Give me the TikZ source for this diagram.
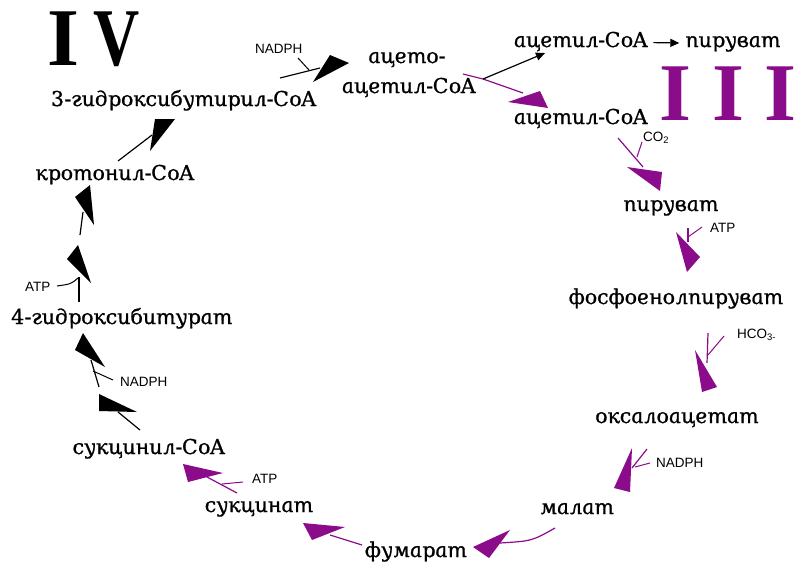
\documentclass[tikz,border=0pt]{standalone}
\usepackage{fontspec}
\usepackage{tikz}
\usetikzlibrary{arrows.meta}
\setmainfont{Liberation Sans}
\newfontfamily\rufont{DejaVu Serif}[ItalicFeatures={FakeSlant=-0.2, FakeBold=1}]
\newfontfamily\romfont{Liberation Serif}
\definecolor{cpu}{HTML}{8B0C8B}

\begin{document}
\begin{tikzpicture}[x=1pt,y=-1pt,
  met/.style={font=\rufont\itshape\fontsize{20.5}{26}\selectfont, anchor=base, inner sep=2pt},
  cof/.style={font=\fontsize{13.5}{15}\selectfont, anchor=base west, inner sep=0pt},
  rom/.style={font=\romfont\bfseries\fontsize{82}{82}\selectfont, anchor=base west, inner sep=0pt, text depth=0pt},
  rx/.style={line width=1.2pt}]
  \path[fill=white, use as bounding box] (0,0) rectangle (802,584);
  \node[rom] (iv) at (47.5,65) {I\hspace{14pt}\scalebox{0.78}[1]{V}};
  \node[rom, text=cpu] (iii) at (659.5,120) {I I I};
  % metabolites
  \node[met] (hb) at (185,106) {3-гидроксибутирил-CoA};
  \node[met] (aa) at (408,63) {ацето-};
  \node[met] (aab) at (410,93) {ацетил-CoA};
  \node[met] (ac1) at (582,47) {ацетил-CoA};
  \node[met] (pyr1) at (734,47) {пируват};
  \node[met] (ac2) at (582,124) {ацетил-CoA};
  \node[met] (pyr2) at (672,211) {пируват};
  \node[met] (pep) at (677,304) {фосфоенолпируват};
  \node[met] (oaa) at (678,423) {оксалоацетат};
  \node[met] (mal) at (578,514) {малат};
  \node[met] (fum) at (417,557) {фумарат};
  \node[met] (suc) at (260,512) {сукцинат};
  \node[met] (sca) at (150,454) {сукцинил-CoA};
  \node[met] (hbt) at (123,324) {4-гидроксибитурат};
  \node[met] (cro) at (116,180) {кротонил-CoA};
  % cofactors
  \node[cof] (n1) at (255,53) {NADPH};
  \node[cof] (n2) at (120,386.5) {NADPH};
  \node[cof] (n3) at (656,467) {NADPH};
  \node[cof] (t1) at (25,291) {ATP};
  \node[cof] (t2) at (252,483) {ATP};
  \node[cof] (t3) at (710,232) {ATP};
  \node[cof] (co) at (643,141) {CO\textsubscript{2}};
  \node[cof] (hc) at (737,338) {HCO\textsubscript{3-}};
  % reaction lines
  \foreach \n/\c/\ax/\ay/\bx/\by in {1/black/280/78/320/68, 2/black/118/161/152/135,
      3/black/80/235/83/212, 4/black/79/302/79/277, 5/black/140/430/118/412,
      6/black/99/387/91/360, 7/cpu/237/493/207/477, 8/cpu/362/545/330/535,
      10/cpu/647/449/632/468, 11/cpu/708/333/707/363, 12/cpu/688/228/688/242,
      13/cpu/618/138/643/167, 14/cpu/483/79/523/93} {
    \coordinate (s\n) at (\ax,\ay); \coordinate (e\n) at (\bx,\by);
    \draw[rx, \c] (s\n) -- (e\n);}
  \coordinate (s9) at (555,528); \coordinate (e9) at (500,543);
  \draw[rx, cpu] (s9) .. controls (532,541) .. (e9);
  \coordinate (aa0) at (463,74); \coordinate (e15) at (545,53);
  \draw[rx, cpu] (aa0) -- (s14);
  \draw[rx, -{Triangle[length=9pt,width=8pt]}] (s14) -- (e15);
  \draw[rx, -{Triangle[length=9pt,width=8pt]}, shorten <=2pt, shorten >=5pt] (ac1) -- (pyr1);
  % wedge heads
  \foreach \c/\ax/\ay/\bx/\by/\tx/\ty in {black/313/82/330/55/349/63, black/150/151/155/119/175/119,
      black/75/197/90/185/94/225, black/67/259/78/245/91/283, black/99/394/99/411/137/412,
      black/75/350/83/333/105/367, cpu/183/464/223/473/188/482, cpu/303/523/345/527/312/540,
      cpu/473/547/510/530/489/558, cpu/632/448/630/492/614/488, cpu/695/350/717/387/702/392,
      cpu/676/232/700/257/687/272, cpu/627/167/662/172/660/191, cpu/508/102/540/91/548/108}
    \fill[\c] (\ax,\ay) -- (\bx,\by) -- (\tx,\ty) -- cycle;
  % cofactor branches
  \foreach \n/\c/\ax/\ay/\bx/\by in {n1/black/298/58/309/70, n2/black/113/380/93/371,
      t2/cpu/243/482/222/484, n3/cpu/650/463/635/467, t3/cpu/702/227/688/237,
      co/cpu/642/142/637/157, hc/cpu/724/336/708/355} {
    \coordinate (b\n) at (\ax,\ay); \coordinate (m\n) at (\bx,\by);
    \draw[line width=1pt, \c] (b\n) -- (m\n);}
  \coordinate (bt1) at (57,286); \coordinate (mt1) at (78,278);
  \draw[line width=1pt] (bt1) .. controls (71,284) .. (mt1);
\end{tikzpicture}
\end{document}
